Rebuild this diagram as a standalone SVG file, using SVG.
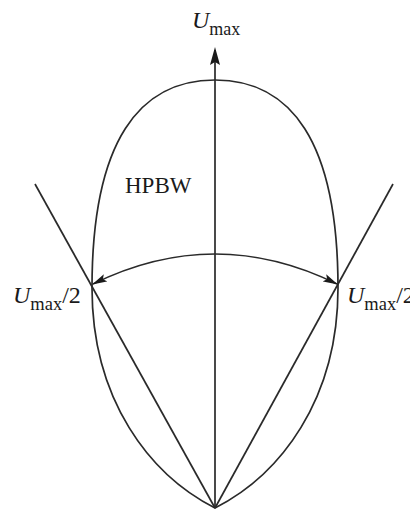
<svg xmlns="http://www.w3.org/2000/svg" width="410" height="509" viewBox="0 0 410 509">
<style>
.ln{fill:none;stroke:#2a2a2a;stroke-width:1.7}
.t{font-family:"Liberation Serif","Times New Roman",serif;fill:#1a1a1a}
.i{font-style:italic}
</style>
<defs>
<marker id="ah" viewBox="0 0 15 8" refX="14" refY="4" markerWidth="15" markerHeight="8" markerUnits="userSpaceOnUse" orient="auto-start-reverse">
<path d="M0,0 L15,4 L0,8 L3,4 Z" fill="#1a1a1a"/>
</marker>
</defs>
<g id="lobe">
<path class="ln" d="M215,508 C150,475 92,400 92,288 C92,140 140,80 215,80 C290,80 338,140 338,288 C338,400 280,475 215,508 Z"/>
</g>
<g id="connectors">
<line class="ln" x1="215" y1="508" x2="215" y2="50"/>
<path d="M215,47 L220,65 L215,62 L210,65 Z" fill="#1a1a1a"/>
<line class="ln" x1="215" y1="508" x2="35" y2="184"/>
<line class="ln" x1="215" y1="508" x2="393" y2="184"/>
<path class="ln" d="M93,284 Q215,224 337,284" marker-start="url(#ah)" marker-end="url(#ah)"/>
</g>
<g id="labels">
<text class="t" x="192" y="28" font-size="24"><tspan class="i">U</tspan><tspan font-size="18" dy="7">max</tspan></text>
<text class="t" x="125" y="193" font-size="23">HPBW</text>
<text class="t" x="13" y="303" font-size="24"><tspan class="i">U</tspan><tspan font-size="18.5" dy="7">max</tspan><tspan dy="-7">/2</tspan></text>
<text class="t" x="347" y="303" font-size="24"><tspan class="i">U</tspan><tspan font-size="18.5" dy="7">max</tspan><tspan dy="-7">/2</tspan></text>
</g>
</svg>
